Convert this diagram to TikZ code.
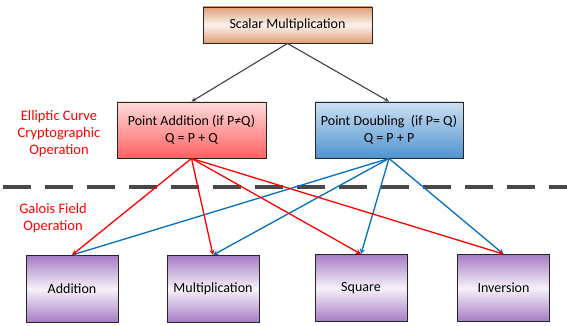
\documentclass[tikz,border=0pt]{standalone}
\usepackage{fontspec}
\setmainfont{Carlito}
\usepackage{tikz}
\usetikzlibrary{positioning}
\usepackage{xcolor}

\definecolor{ecred}{RGB}{255,0,0}
\definecolor{ecblue}{RGB}{0,112,192}
\definecolor{darkline}{RGB}{64,64,64}
\definecolor{dashgray}{RGB}{72,72,72}
\definecolor{orangetop}{RGB}{222,160,118}
\definecolor{orangemid}{RGB}{252,242,236}
\definecolor{redtop}{RGB}{255,218,218}
\definecolor{redbot}{RGB}{255,98,98}
\definecolor{bluetop}{RGB}{205,224,242}
\definecolor{bluebot}{RGB}{78,148,208}
\definecolor{purpleend}{RGB}{166,124,196}
\definecolor{purplemid}{RGB}{246,242,249}

\tikzset{
 opbox/.style={draw=black!85, line width=0.9pt, align=center, inner sep=0pt,
   font=\fontsize{14}{17}\selectfont},
 smbox/.style={opbox, minimum width=169pt, minimum height=36pt,
   top color=orangetop, bottom color=orangetop, middle color=orangemid},
 addbox/.style={opbox, minimum width=149pt, minimum height=56pt,
   top color=redtop, bottom color=redbot},
 dblbox/.style={opbox, minimum width=148pt, minimum height=56pt,
   top color=bluetop, bottom color=bluebot},
 gfbox/.style={opbox, minimum width=92pt, minimum height=67pt,
   top color=purpleend, bottom color=purpleend, middle color=purplemid},
 redlabel/.style={text=ecred, align=center, font=\fontsize{14.5}{17}\selectfont},
 redarrow/.style={ecred, line width=1.3pt, -stealth},
 bluearrow/.style={ecblue, line width=1.3pt, -stealth},
 grayarrow/.style={darkline, line width=1.1pt, -stealth}
}

\begin{document}
\begin{tikzpicture}[x=1pt, y=-1pt]

\useasboundingbox (0,0) rectangle (567,326);

% layer separator
\draw[dashgray, line width=4pt, dash pattern=on 28pt off 14pt, dash phase=-3pt] (0,187)--(567,187);

\node[smbox] (scalar) at (287.5,25) {Scalar Multiplication};

\node[addbox] (padd) at (191.5,130) {Point Addition (if P≠Q)\\Q = P + Q};
\node[dblbox] (pdbl) at (389,130) {Point Doubling~ (if P= Q)\\Q = P + P};

\node[gfbox] (gadd) at (72,289) {Addition};
\node[gfbox] (gmul) at (213,289) {Multiplication};
\node[gfbox] (gsqr) at (361,288) {Square};
\node[gfbox] (ginv) at (503.5,288) {Inversion};

\node[redlabel] (eclabel) at (59,134) {Elliptic Curve\\Cryptographic\\Operation};
\node[redlabel] (gflabel) at (53,218) {Galois Field\\Operation};

\draw[grayarrow] (scalar.south)--(padd.north);
\draw[grayarrow] (scalar.south)--(pdbl.north);

\foreach \t in {gadd,gmul,gsqr,ginv}
  \draw[bluearrow] (pdbl.south)--(\t.north);

\foreach \t in {gadd,gmul,gsqr,ginv}
  \draw[redarrow] (padd.south)--(\t.north);

\end{tikzpicture}
\end{document}
